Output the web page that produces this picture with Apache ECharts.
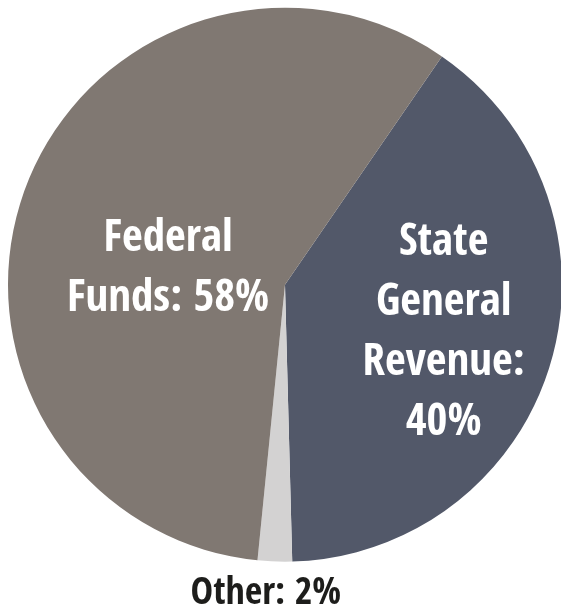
<!DOCTYPE html>
<html>
<head>
<meta charset="utf-8">
<script src="https://cdn.jsdelivr.net/npm/echarts@6/dist/echarts.min.js"></script>
<style>
html,body{margin:0;padding:0;background:#fff;}
#chart{width:561px;height:607px;}
</style>
</head>
<body>
<div id="chart"></div>
<script>
// Data
const categories = ['State General Revenue', 'Other', 'Federal Funds'];
const labelTexts = ['State\nGeneral\nRevenue:\n40%', 'Other: 2%', 'Federal\nFunds: 58%'];
const values = [40, 2, 58];
const colors = ['#525869', '#d3d2d2', '#807872'];

const FONT = '"Open Sans Condensed", "Roboto Condensed", "DejaVu Sans Condensed", sans-serif';

const chart = echarts.init(document.getElementById('chart'), null, {renderer: 'canvas'});

const data = categories.map((name, i) => ({
  name: name,
  value: values[i],
  itemStyle: {color: colors[i]},
  label: i === 1 ? {
    position: 'inside',
    color: '#1d1d1b',
    fontSize: 38,
    lineHeight: 46
  } : {
    position: 'inside',
    color: '#ffffff'
  },
  labelLine: {show: false}
}));

chart.setOption({
  animation: false,
  series: [{
    type: 'pie',
    center: ['50.8%', '46.9%'],
    radius: ['0%', 277],
    startAngle: 55.5,
    clockwise: true,
    silent: true,
    label: {
      show: true,
      fontFamily: FONT,
      fontWeight: 'bold',
      fontSize: 45,
      lineHeight: 60,
      align: 'center',
      formatter: function (p) { return labelTexts[p.dataIndex]; }
    },
    labelLine: {show: false},
    labelLayout: function (params) {
      const r = params.rect;
      if (params.dataIndex === 1) {
        // place "Other" label centred just below its slice
        return {
          x: r.x + r.width / 2 - 9,
          y: r.y + r.height + 32,
          align: 'center',
          verticalAlign: 'middle'
        };
      }
      if (params.dataIndex === 0) {
        return {dx: 23, dy: 8};
      }
      return {dx: 16, dy: 33};
    },
    itemStyle: {borderWidth: 0},
    data: data
  }]
});
</script>
</body>
</html>
